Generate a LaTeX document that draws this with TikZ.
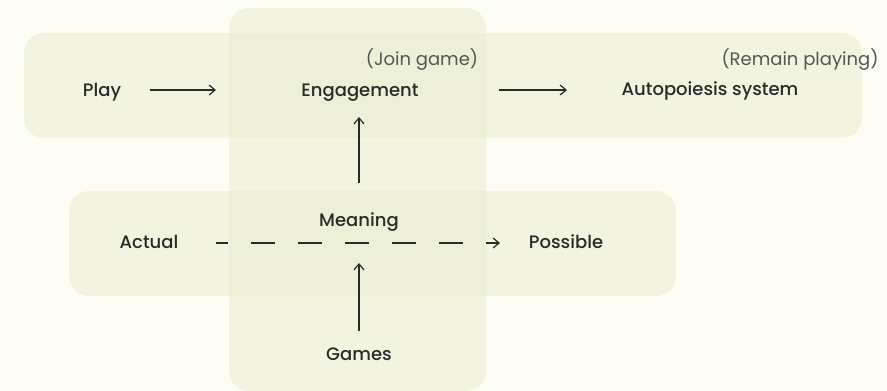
\documentclass[tikz,border=0pt]{standalone}
\usepackage{fontspec}
\setmainfont{Poppins}
\newfontfamily\medfont{Poppins Medium}
\usetikzlibrary{arrows.meta}
\definecolor{bgcol}{HTML}{FDFDF5}
\definecolor{boxcol}{HTML}{E9EDD0}
\definecolor{txtcol}{HTML}{2A2A2A}
\definecolor{notecol}{HTML}{555555}
\tikzset{
  grp/.style={fill=boxcol, fill opacity=0.55, rounded corners=20pt},
  lbl/.style={text=txtcol, font=\medfont\fontsize{18}{21}\selectfont, inner sep=0pt, anchor=base},
  note/.style={text=notecol, font=\fontsize{18}{21}\selectfont, inner sep=0pt, anchor=base},
  conn/.style={draw=txtcol, line width=1.2pt, -{Straight Barb[length=6pt,width=10pt]}},
  dconn/.style={conn, dash pattern=on 24pt off 23pt, dash phase=12pt},
}
\begin{document}
\begin{tikzpicture}[x=1pt,y=-1pt]
\fill[bgcol] (0,0) rectangle (887,391);
\useasboundingbox (0,0) rectangle (887,391);
% group boxes
\path[grp] (24,33) rectangle (862,138);
\path[grp] (69,191) rectangle (676,296);
\path[grp] (229,8) rectangle (486,391);
% labels
\node[lbl] (play) at (102,96) {Play};
\node[lbl] (eng) at (360,96) {Engagement};
\node[note] (join) at (422,65) {(Join game)};
\node[lbl] (auto) at (710,95.5) {Autopoiesis system};
\node[note] (remain) at (800,65) {(Remain playing)};
\node[lbl] (mean) at (359,226.5) {Meaning};
\node[lbl] (act) at (149,248.5) {Actual};
\node[lbl] (poss) at (566,248.5) {Possible};
\node[lbl] (games) at (359,360) {Games};
% connector endpoints
\coordinate (p1) at (150,90);
\coordinate (p2) at (216,90);
\coordinate (a1) at (499,90);
\coordinate (a2) at (567,90);
\coordinate (d1) at (216,243);
\coordinate (d2) at (500,243);
\coordinate (m1) at (359,183);
\coordinate (m2) at (359,117);
\coordinate (g1) at (359,331);
\coordinate (g2) at (359,263);
\draw[conn] (p1) -- (p2);
\draw[conn] (a1) -- (a2);
\draw[dconn] (d1) -- (d2);
\draw[conn] (m1) -- (m2);
\draw[conn] (g1) -- (g2);
\end{tikzpicture}
\end{document}
